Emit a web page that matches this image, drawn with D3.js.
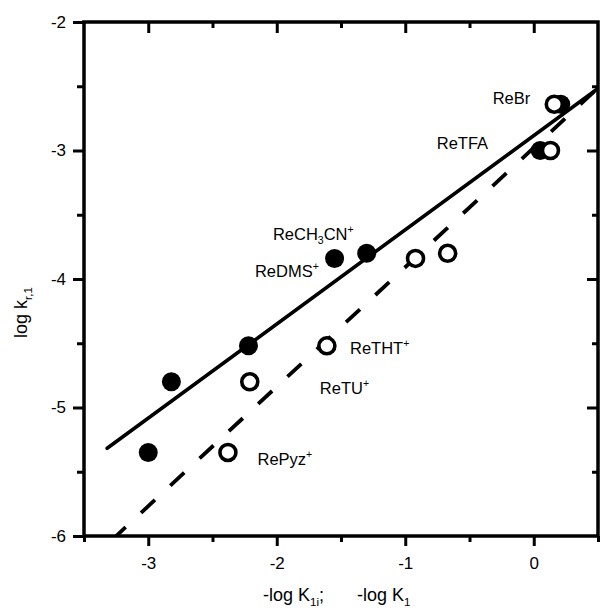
<!DOCTYPE html>
<html>
<head>
<meta charset="utf-8">
<script src="https://cdn.jsdelivr.net/npm/d3@7"></script>
<style>
  body { margin: 0; background: #fff; }
  svg { display: block; }
  text { font-family: "Liberation Sans", Arial, sans-serif; fill: #000; }
</style>
</head>
<body>
<svg id="chart" width="600" height="609"></svg>
<script>
// Rhenium complexes: log k(r,1) against -log K1i (filled) and -log K1 (open)
const complexes = ["RePyz+", "ReTU+", "ReTHT+", "ReDMS+", "ReCH3CN+", "ReTFA", "ReBr"];
const logKr1    = [-5.35, -4.80, -4.52, -3.84, -3.80, -3.00, -2.64];
const negLogK1i = [-3.00, -2.82, -2.22, -1.55, -1.30, 0.05, 0.21];
const negLogK1  = [-2.38, -2.21, -1.61, -0.92, -0.67, 0.13, 0.16];

// Linear fits: y = intercept + slope * x
const fitK1i = { slope: 0.733, intercept: -2.884, from: -3.32, to: 0.5 };
const fitK1  = { slope: 0.930, intercept: -2.978, from: -3.25, to: 0.5 };

const xMajor = [-3, -2, -1, 0];
const xMinor = [-3.5, -2.5, -1.5, -0.5, 0.5];
const yMajor = [-6, -5, -4, -3, -2];
const yMinor = [-5.5, -4.5, -3.5, -2.5];

// Label text pieces: [text, "n" normal | "sub" | "sup"]
const labelParts = {
  "RePyz+":   [["RePyz", "n"], ["+", "sup"]],
  "ReTU+":    [["ReTU", "n"], ["+", "sup"]],
  "ReTHT+":   [["ReTHT", "n"], ["+", "sup"]],
  "ReDMS+":   [["ReDMS", "n"], ["+", "sup"]],
  "ReCH3CN+": [["ReCH", "n"], ["3", "sub"], ["CN", "n"], ["+", "sup"]],
  "ReTFA":    [["ReTFA", "n"]],
  "ReBr":     [["ReBr", "n"]]
};

// Label anchors (start of text baseline), in axis units
const labelAt = {
  "RePyz+":   [-2.15, -5.45],
  "ReTU+":    [-1.665, -4.895],
  "ReTHT+":   [-1.43, -4.585],
  "ReDMS+":   [-2.17, -3.985],
  "ReCH3CN+": [-2.03, -3.70],
  "ReTFA":    [-0.755, -2.99],
  "ReBr":     [-0.32, -2.64]
};

const svg = d3.select("#chart");
const L = 84, R = 598, T = 22, B = 536;
const x = d3.scaleLinear().domain([-3.5, 0.5]).range([L, R]);
const y = d3.scaleLinear().domain([-6, -2]).range([B, T]);

const plot = svg.append("g");
plot.append("clipPath").attr("id", "clip")
  .append("rect").attr("x", L).attr("y", T).attr("width", R - L).attr("height", B - T);

// Fit lines
function fitLine(f) {
  return [[f.from, f.intercept + f.slope * f.from], [f.to, f.intercept + f.slope * f.to]];
}
const line = d3.line().x(d => x(d[0])).y(d => y(d[1]));
plot.append("path").datum(fitLine(fitK1i))
  .attr("d", line).attr("fill", "none").attr("stroke", "#000")
  .attr("stroke-width", 3.6).attr("stroke-linecap", "round")
  .attr("clip-path", "url(#clip)");
plot.append("path").datum(fitLine(fitK1))
  .attr("d", line).attr("fill", "none").attr("stroke", "#000")
  .attr("stroke-width", 3.8).attr("stroke-dasharray", "19,21")
  .attr("stroke-dashoffset", 6)
  .attr("clip-path", "url(#clip)");

// Points
const rows = complexes.map((c, i) => ({ c, y: logKr1[i], xi: negLogK1i[i], x1: negLogK1[i] }));
plot.selectAll("circle.filled").data(rows).join("circle")
  .attr("class", "filled")
  .attr("cx", d => x(d.xi)).attr("cy", d => y(d.y)).attr("r", 9.5)
  .attr("fill", "#000");
plot.selectAll("circle.open").data(rows).join("circle")
  .attr("class", "open")
  .attr("cx", d => x(d.x1)).attr("cy", d => y(d.y)).attr("r", 8)
  .attr("fill", "#fff").attr("stroke", "#000").attr("stroke-width", 3.6);

// Labels
complexes.forEach(c => {
  const [lx, ly] = labelAt[c];
  const t = plot.append("text").attr("x", x(lx)).attr("y", y(ly)).attr("font-size", 16.5);
  let shift = 0;
  labelParts[c].forEach(([s, k]) => {
    const target = k === "n" ? 0 : (k === "sub" ? 4 : -7);
    t.append("tspan").text(s)
      .attr("dy", target - shift)
      .attr("font-size", k === "n" ? 16.5 : 10.5);
    shift = target;
  });
});

// Axes: outward ticks with labels on bottom/left, inward ticks on top/right
const fmt = d => String(d);
svg.append("g").attr("transform", `translate(0,${B})`)
  .call(d3.axisBottom(x).tickValues(xMajor).tickSize(10).tickPadding(11).tickFormat(fmt));
svg.append("g").attr("transform", `translate(0,${B})`)
  .call(d3.axisBottom(x).tickValues(xMinor).tickSize(6).tickFormat(""));
svg.append("g").attr("transform", `translate(${L},0)`)
  .call(d3.axisLeft(y).tickValues(yMajor).tickSize(11).tickPadding(7).tickFormat(fmt));
svg.append("g").attr("transform", `translate(${L},0)`)
  .call(d3.axisLeft(y).tickValues(yMinor).tickSize(7).tickFormat(""));
svg.append("g").attr("transform", `translate(0,${T})`)
  .call(d3.axisTop(x).tickValues(xMajor).tickSize(-11).tickFormat(""));
svg.append("g").attr("transform", `translate(0,${T})`)
  .call(d3.axisTop(x).tickValues(xMinor.slice(1, -1)).tickSize(-6).tickFormat(""));
svg.append("g").attr("transform", `translate(${R},0)`)
  .call(d3.axisRight(y).tickValues(yMajor.slice(1, -1)).tickSize(-11).tickFormat(""));
svg.append("g").attr("transform", `translate(${R},0)`)
  .call(d3.axisRight(y).tickValues(yMinor).tickSize(-6).tickFormat(""));

svg.selectAll(".domain").remove();
svg.selectAll(".tick line").attr("stroke", "#000").attr("stroke-width", 3);
svg.selectAll(".tick text").attr("font-size", 17)
  .attr("font-family", "'Liberation Sans', Arial, sans-serif").attr("fill", "#000");

// Frame
svg.append("rect").attr("x", L).attr("y", T).attr("width", R - L).attr("height", B - T)
  .attr("fill", "none").attr("stroke", "#000").attr("stroke-width", 3.5);

// Axis titles
const xt1 = svg.append("text").attr("x", 263).attr("y", 601).attr("font-size", 18);
xt1.append("tspan").text("-log K");
xt1.append("tspan").text("1i").attr("font-size", 11.5).attr("dy", 5);
xt1.append("tspan").text(";").attr("dy", -5);
const xt2 = svg.append("text").attr("x", 357).attr("y", 601).attr("font-size", 18);
xt2.append("tspan").text("-log K");
xt2.append("tspan").text("1").attr("font-size", 11.5).attr("dy", 5);

const yt = svg.append("text").attr("transform", "translate(27,338) rotate(-90)").attr("font-size", 18);
yt.append("tspan").text("log k");
yt.append("tspan").text("r,1").attr("font-size", 11.5).attr("dy", 5);
</script>
</body>
</html>
